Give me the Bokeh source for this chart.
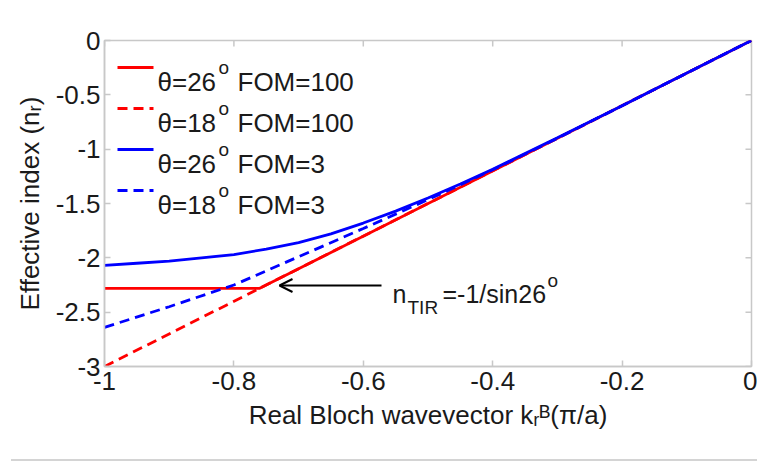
import math
from bokeh.plotting import figure
from bokeh.models import Label, Arrow, OpenHead, FixedTicker, Range1d, Div
from bokeh.layouts import column
from bokeh.embed import file_html
from bokeh.resources import INLINE

# ---- data ----
k_red_dash = [-1.0, 0.0]
n_red_dash = [-3.0, 0.0]                      # theta=18, FOM=100
k_red_solid = [-1.0, -0.76, 0.0]
n_red_solid = [-2.281, -2.281, 0.0]           # theta=26, FOM=100
k_blue_solid = [-1.0, -0.95, -0.9, -0.85, -0.8, -0.75, -0.7, -0.65, -0.6, -0.55, -0.5, -0.45, -0.4, -0.35, -0.3, -0.2, -0.1, 0.0]
n_blue_solid = [-2.07, -2.05, -2.03, -2.00, -1.97, -1.92, -1.86, -1.78, -1.68, -1.57, -1.45, -1.32, -1.185, -1.04, -0.895, -0.60, -0.30, 0.0]
k_blue_dash = [-1.0, -0.9, -0.8, -0.7, -0.6, -0.5, -0.4, -0.3, -0.2, -0.1, 0.0]
n_blue_dash = [-2.64, -2.45, -2.25, -1.99, -1.73, -1.465, -1.19, -0.90, -0.60, -0.30, 0.0]

x_ticks = [-1, -0.8, -0.6, -0.4, -0.2, 0]
x_tick_labels = ["-1", "-0.8", "-0.6", "-0.4", "-0.2", "0"]
y_ticks = [-3, -2.5, -2, -1.5, -1, -0.5, 0]
y_tick_labels = ["-3", "-2.5", "-2", "-1.5", "-1", "-0.5", "0"]

legend_rows = [
    ("θ=26", "FOM=100", "#ff0000", "solid"),
    ("θ=18", "FOM=100", "#ff0000", "10 6"),
    ("θ=26", "FOM=3", "#0000ff", "solid"),
    ("θ=18", "FOM=3", "#0000ff", "10 6"),
]

# ---- layout helpers (pixel -> data) ----
FL, FT, FW, FH = 104, 40, 647, 326
def X(px):
    return -1 + (px - FL) / FW
def Y(py):
    return -(py - FT) / FH * 3

FONT = "Liberation Sans"
TXT = "#1a1a1a"
GREY = "#c8c8c8"

p = figure(frame_width=FW, frame_height=FH, min_border_left=FL, min_border_right=6,
           min_border_top=FT, min_border_bottom=93,
           x_range=Range1d(-1, 0), y_range=Range1d(-3, 0),
           output_backend="svg", toolbar_location=None)
p.xgrid.visible = False
p.ygrid.visible = False
p.outline_line_color = GREY
p.outline_line_width = 1.5
p.background_fill_color = "white"
p.border_fill_color = "white"

for ax, ticks, labels in ((p.xaxis[0], x_ticks, x_tick_labels), (p.yaxis[0], y_ticks, y_tick_labels)):
    ax.ticker = FixedTicker(ticks=ticks)
    ax.major_label_overrides = {t: l for t, l in zip(ticks, labels)}
    ax.minor_tick_line_color = None
    ax.major_tick_in = 6
    ax.major_tick_out = 0
    ax.major_tick_line_color = GREY
    ax.major_tick_line_width = 1.5
    ax.axis_line_color = GREY
    ax.axis_line_width = 1.5
    ax.major_label_text_font = FONT
    ax.major_label_text_font_size = "26px"
    ax.major_label_text_color = TXT
    ax.axis_label_text_font = FONT
    ax.axis_label_text_font_size = "26px"
    ax.axis_label_text_font_style = "normal"
    ax.axis_label_text_color = TXT
p.xaxis[0].major_label_standoff = 5
p.yaxis[0].major_label_standoff = 4
p.xaxis[0].axis_label = "Real Bloch wavevector k\u1d63\u1d2e(\u03c0/a)"
p.xaxis[0].axis_label_standoff = 7
p.yaxis[0].axis_label = "Effective index (n\u1d63)"
p.yaxis[0].axis_label_standoff = 8

# inward tick marks on the top and right edges of the box
dy = 6 / FH * 3
dx = 6 / FW
p.segment(x0=x_ticks, y0=[0] * len(x_ticks), x1=x_ticks, y1=[-dy] * len(x_ticks),
          line_color=GREY, line_width=1.5)
p.segment(x0=[0] * len(y_ticks), y0=y_ticks, x1=[-dx] * len(y_ticks), y1=y_ticks,
          line_color=GREY, line_width=1.5)

# ---- curves ----
p.line(k_red_solid, n_red_solid, line_color="#ff0000", line_width=2.8)
p.line(k_red_dash, n_red_dash, line_color="#ff0000", line_width=2.8, line_dash="10 6")
p.line(k_blue_dash, n_blue_dash, line_color="#0000ff", line_width=2.8, line_dash="10 6")
p.line(k_blue_solid, n_blue_solid, line_color="#0000ff", line_width=2.8)

def lab(px, py, text, size="26px", align="left", angle=0.0):
    p.add_layout(Label(x=X(px), y=Y(py), text=text, text_font=FONT, text_font_size=size,
                       text_color=TXT, text_align=align, text_baseline="alphabetic",
                       angle=angle))

# ---- manual legend ----
for i, (a, b, col, dash) in enumerate(legend_rows):
    ly = 67 + 41 * i
    p.line([X(117), X(153)], [Y(ly), Y(ly)], line_color=col, line_width=2.8, line_dash=dash)
    lab(157, ly + 14, a)
    lab(218, ly, "o", size="19px")
    lab(237, ly + 14, b)

# ---- arrow and annotation ----
p.add_layout(Arrow(end=OpenHead(size=13, line_width=2, line_color="black"),
                   x_start=X(381), y_start=Y(285), x_end=X(279), y_end=Y(285),
                   line_width=2, line_color="black"))
lab(392, 293, "n", size="25px")
lab(407, 307, "TIR", size="19px")
lab(442, 293, "=-1/sin26", size="25px")
lab(547, 280, "o", size="19px")

rule = Div(text="", width=746, height=2, margin=(0, 0, 0, 11),
           styles={"background-color": "#d4d4d4", "overflow": "hidden"})

layout = column(p, rule, spacing=0)
open("out.html", "w").write(file_html(layout, INLINE))
